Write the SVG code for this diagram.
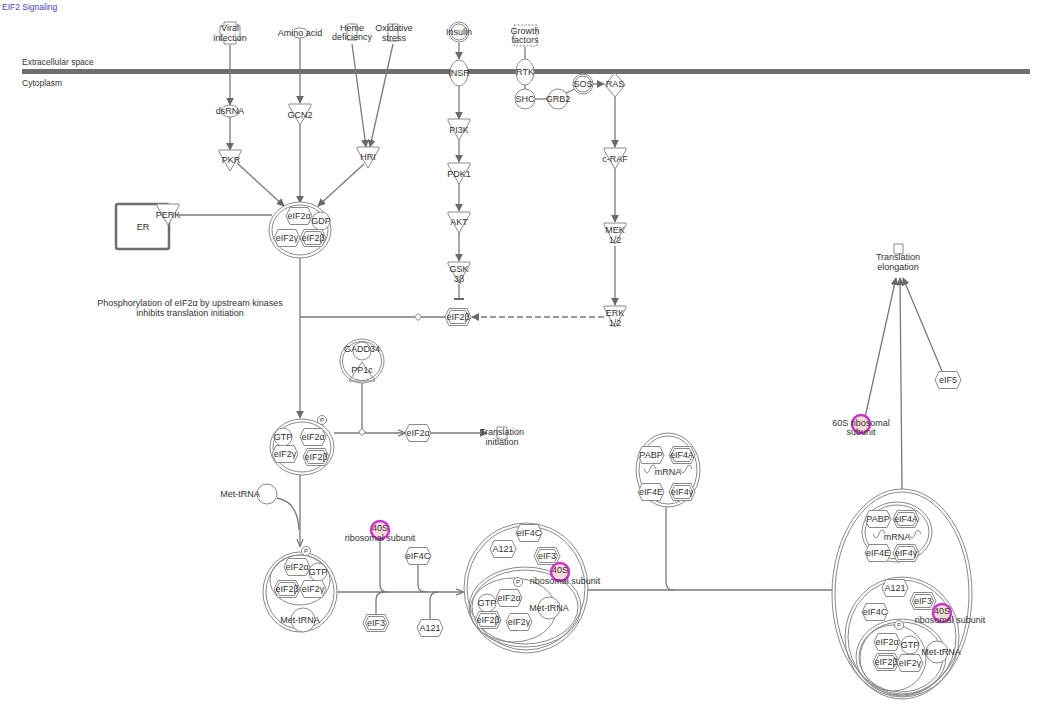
<svg xmlns="http://www.w3.org/2000/svg" xmlns:xlink="http://www.w3.org/1999/xlink" width="1050" height="708" viewBox="0 0 1050 708">
<style>
text{font-family:"Liberation Sans",Arial,sans-serif;font-size:9px;fill:#333;text-anchor:middle;dominant-baseline:central}
.t{text-anchor:start}
.s{fill:#fff;stroke:#8a8a8a;stroke-width:1}
.c{fill:none;stroke:#8a8a8a;stroke-width:1}
.l{fill:none;stroke:#7a7a7a;stroke-width:1.3}
.d{fill:none;stroke:#7a7a7a;stroke-width:1.3;stroke-dasharray:6 3}
.m{fill:#f6dcd8;stroke:#cc33cc;stroke-width:2.5}
.dm{fill:#fff;stroke:#7a7a7a;stroke-width:1}
.p{font-size:6px}
</style>
<defs>
<marker id="a" viewBox="0 0 10 10" refX="9" refY="5" markerWidth="8" markerHeight="8" orient="auto" markerUnits="userSpaceOnUse"><path d="M0,0 L10,5 L0,10 Z" fill="#6a6a6a"/></marker>
<marker id="ah" viewBox="0 0 10 10" refX="9" refY="5" markerWidth="8" markerHeight="8" orient="auto" markerUnits="userSpaceOnUse"><path d="M0,1 L10,5 L0,9" fill="none" stroke="#6a6a6a" stroke-width="1.3"/></marker>
<marker id="b" viewBox="0 0 10 10" refX="5" refY="5" markerWidth="10" markerHeight="10" orient="auto" markerUnits="userSpaceOnUse"><path d="M5,0 L5,10" stroke="#6a6a6a" stroke-width="2"/></marker>
<path id="hex" d="M-13,0 L-9,-8.5 L9,-8.5 L13,0 L9,8.5 L-9,8.5 Z"/>
<path id="hexi" d="M-10.5,0 L-7.5,-6.5 L7.5,-6.5 L10.5,0 L7.5,6.5 L-7.5,6.5 Z"/>
<path id="kin" d="M-11,0 L11,0 L11,2 L0,21 L-11,2 Z"/>
<path id="dia" d="M0,-3.5 L3.5,0 L0,3.5 L-3.5,0 Z"/>
<path id="mrna" d="M-24,-4 q3,8 6,0 t6,0 M12,-4 q3,8 6,0 t6,0"/>
</defs>

<text class="t" x="2" y="7" style="fill:#4444bb;font-size:8.5px">EIF2 Signaling</text>
<rect x="22" y="69" width="1008" height="5" fill="#6e6e6e"/>
<text class="t" x="22" y="62" style="font-size:8.5px">Extracellular space</text>
<text class="t" x="22" y="83" style="font-size:8.5px">Cytoplasm</text>

<g id="connectors">
<path class="l" d="M230,45 L230,105" marker-end="url(#a)"/>
<path class="l" d="M230,117 L230,150" marker-end="url(#a)"/>
<path class="l" d="M300,38 L300,103" marker-end="url(#a)"/>
<path class="l" d="M352,44 L366,147" marker-end="url(#a)"/>
<path class="l" d="M393,44 L370,147" marker-end="url(#a)"/>
<path class="l" d="M237,163 L284,206" marker-end="url(#a)"/>
<path class="l" d="M300,125 L300,203" marker-end="url(#a)"/>
<path class="l" d="M364,164 L318,206" marker-end="url(#a)"/>
<path class="l" d="M178,215 L272,215"/>
<path class="l" d="M300,258 L300,418" marker-end="url(#a)"/>
<path class="l" d="M445,317 L300,317"/>
<use href="#dia" x="418" y="317" class="dm"/>
<path class="l" d="M459,43 L459,59" marker-end="url(#a)"/>
<path class="l" d="M459,86 L459,119" marker-end="url(#a)"/>
<path class="l" d="M459,140 L459,162" marker-end="url(#a)"/>
<path class="l" d="M459,183 L459,211" marker-end="url(#a)"/>
<path class="l" d="M459,232 L459,261" marker-end="url(#a)"/>
<path class="l" d="M459,284 L459,299" marker-end="url(#b)"/>
<path class="l" d="M525,47 L525,60"/>
<path class="l" d="M525,85 L525,89"/>
<path class="l" d="M535,99 L548,99"/>
<path class="l" d="M566,93 L575,89"/>
<path class="l" d="M593,84 L604,84" marker-end="url(#a)"/>
<path class="l" d="M615,97 L615,147" marker-end="url(#a)"/>
<path class="l" d="M615,169 L615,222" marker-end="url(#a)"/>
<path class="l" d="M615,246 L615,305" marker-end="url(#a)"/>
<path class="d" d="M604,317 L472,317" marker-end="url(#a)"/>
<path class="l" d="M362,383 L362,432"/>
<path class="l" d="M334,433 L405,433" marker-end="url(#ah)"/>
<use href="#dia" x="362" y="432" class="dm"/>
<path class="l" d="M431,433 L487,433" marker-end="url(#a)"/>
<path class="l" d="M300,475 L300,546" marker-end="url(#ah)"/>
<path class="l" d="M277,498 Q298,502 299,530"/>
<path class="l" d="M337,592 L463,592" marker-end="url(#ah)"/>
<path class="l" d="M380,540 L380,585 Q380,592 388,592"/>
<path class="l" d="M418,565 L418,585 Q418,592 426,592"/>
<path class="l" d="M384,592 Q376,592 376,600 L376,614"/>
<path class="l" d="M438,592 Q430,592 430,600 L430,619"/>
<path class="l" d="M588,590 L840,590" marker-end="url(#ah)"/>
<path class="l" d="M666,507 L666,582 Q666,590 674,590"/>
<path class="l" d="M902,491 L900,278" marker-end="url(#a)"/>
<path class="l" d="M864,422 L896,278" marker-end="url(#a)"/>
<path class="l" d="M942,371 L903,278" marker-end="url(#a)"/>
</g>

<g id="viral-infection"><path class="c" d="M224,22 h12 v4 h4 v14 h-4 v4 h-12 v-4 h-4 v-14 h4 Z"/><text x="230" y="28">Viral</text><text x="230" y="38">infection</text></g>
<g id="amino-acid"><ellipse class="c" cx="300" cy="33" rx="8" ry="5"/><text x="300" y="33">Amino acid</text></g>
<g id="heme-deficiency"><path class="c" d="M347,24 h10 v16 h-10 Z"/><text x="352" y="28">Heme</text><text x="352" y="37">deficiency</text></g>
<g id="oxidative-stress"><path class="c" d="M388,24 h10 v17 h-10 Z"/><text x="394" y="28">Oxidative</text><text x="394" y="38">stress</text></g>
<g id="insulin"><circle class="s" cx="459" cy="32" r="10"/><circle class="c" cx="459" cy="32" r="8"/><text x="459" y="32">Insulin</text></g>
<g id="growth-factors"><rect class="c" x="514" y="25" width="23" height="21" style="stroke-dasharray:2 1.5"/><text x="525" y="31">Growth</text><text x="525" y="40">factors</text></g>

<g id="dsRNA"><ellipse class="s" cx="230" cy="111" rx="9" ry="6"/><text x="230" y="111">dsRNA</text></g>
<g id="PKR"><use href="#kin" x="230" y="150" class="s"/><text x="231" y="160">PKR</text></g>
<g id="GCN2"><use href="#kin" x="300" y="104" class="s"/><text x="300" y="115">GCN2</text></g>
<g id="HRI"><use href="#kin" x="368" y="147" class="s"/><text x="368" y="157">HRI</text></g>
<g id="INSR"><ellipse class="s" cx="459" cy="73" rx="9" ry="13"/><text x="459" y="73">INSR</text></g>
<g id="PI3K"><use href="#kin" x="459" y="119" class="s"/><text x="459" y="130">PI3K</text></g>
<g id="PDK1"><use href="#kin" x="459" y="163" class="s"/><text x="459" y="174">PDK1</text></g>
<g id="AKT"><use href="#kin" x="459" y="212" class="s"/><text x="459" y="222">AKT</text></g>
<g id="GSK3b"><use href="#kin" x="459" y="262" class="s"/><text x="459" y="269">GSK</text><text x="459" y="279">3β</text></g>
<g id="RTK"><ellipse class="s" cx="525" cy="72" rx="9" ry="13"/><text x="525" y="72">RTK</text></g>
<g id="SHC"><circle class="s" cx="525" cy="99" r="10"/><text x="525" y="99">SHC</text></g>
<g id="GRB2"><circle class="s" cx="558" cy="99" r="10"/><text x="558" y="99">GRB2</text></g>
<g id="SOS"><circle class="s" cx="583" cy="84" r="10"/><circle class="c" cx="583" cy="84" r="8"/><text x="583" y="84">SOS</text></g>
<g id="RAS"><path class="s" d="M615,73 L625,85 L615,97 L605,85 Z"/><text x="615" y="84">RAS</text></g>
<g id="c-RAF"><use href="#kin" x="615" y="148" class="s"/><text x="615" y="159">c-RAF</text></g>
<g id="MEK12"><use href="#kin" x="615" y="223" class="s"/><text x="615" y="230">MEK</text><text x="615" y="240">1/2</text></g>
<g id="ERK12"><use href="#kin" x="615" y="306" class="s"/><text x="615" y="313">ERK</text><text x="615" y="323">1/2</text></g>
<g id="eIF2b-top"><use href="#hex" x="458" y="317" class="s"/><use href="#hexi" x="458" y="317" class="c"/><text x="458" y="317">eIF2β</text></g>

<g id="ER"><rect x="116" y="204" width="53" height="45" rx="2" fill="#fff" stroke="#6e6e6e" stroke-width="2.5"/><text x="143" y="227">ER</text></g>
<g id="PERK"><use href="#kin" x="168" y="204" class="s"/><text x="168" y="215">PERK</text></g>

<g id="complex-eIF2-GDP">
<ellipse class="s" cx="300" cy="230" rx="31" ry="28"/><ellipse class="c" cx="300" cy="230" rx="28" ry="25"/>
<circle class="s" cx="321" cy="221" r="9"/><text x="321" y="221">GDP</text>
<use href="#hex" x="299" y="216" class="s"/><text x="299" y="216">eIF2α</text>
<use href="#hex" x="287" y="238" class="s"/><text x="287" y="238">eIF2γ</text>
<use href="#hex" x="313" y="238" class="s"/><use href="#hexi" x="313" y="238" class="c"/><text x="313" y="238">eIF2β</text>
</g>

<g id="note"><text x="190" y="303">Phosphorylation of eIF2α by upstream kinases</text><text x="190" y="313">inhibits translation initiation</text></g>

<g id="GADD34-PP1c">
<circle class="s" cx="362" cy="361" r="22"/><circle class="c" cx="362" cy="361" r="19.5"/>
<circle class="c" cx="362" cy="351" r="9"/><path class="c" d="M362,362 L375,381 L349,381 Z"/>
<text x="362" y="349">GADD34</text><text x="362" y="370">PP1c</text>
</g>

<g id="complex-eIF2-GTP-P">
<ellipse class="s" cx="302" cy="447" rx="32" ry="28"/><ellipse class="c" cx="302" cy="447" rx="29" ry="25"/>
<circle class="s" cx="322" cy="420" r="4.5"/><text class="p" x="322" y="420">P</text>
<circle class="s" cx="283" cy="437" r="9"/><text x="283" y="437">GTP</text>
<use href="#hex" x="313" y="437" class="s"/><text x="313" y="437">eIF2α</text>
<use href="#hex" x="285" y="454" class="s"/><text x="285" y="454">eIF2γ</text>
<use href="#hex" x="316" y="457" class="s"/><use href="#hexi" x="316" y="457" class="c"/><text x="316" y="457">eIF2β</text>
</g>
<g id="eIF2a"><use href="#hex" x="418" y="433" class="s"/><text x="418" y="433">eIF2α</text></g>
<g id="translation-initiation"><path class="c" d="M497,427 h10 v12 h-10 Z"/><text x="502" y="432">Translation</text><text x="502" y="442">initiation</text></g>
<g id="Met-tRNA"><circle class="s" cx="267" cy="494" r="10"/><text x="240" y="494">Met-tRNA</text></g>

<g id="complex-ternary">
<ellipse class="s" cx="300" cy="592" rx="37" ry="40"/><ellipse class="c" cx="300" cy="592" rx="34" ry="37"/>
<ellipse class="c" cx="300" cy="580" rx="30" ry="25"/>
<circle class="s" cx="306" cy="551" r="4.5"/><text class="p" x="306" y="551">P</text>
<circle class="s" cx="303" cy="620" r="12"/><text x="300" y="620">Met-tRNA</text>
<circle class="s" cx="318" cy="572" r="9"/><text x="318" y="572">GTP</text>
<use href="#hex" x="297" y="567" class="s"/><text x="297" y="567">eIF2α</text>
<use href="#hex" x="287" y="589" class="s"/><use href="#hexi" x="287" y="589" class="c"/><text x="287" y="589">eIF2β</text>
<use href="#hex" x="313" y="589" class="s"/><text x="313" y="589">eIF2γ</text>
</g>

<g id="s40-a"><circle class="m" cx="380" cy="530" r="9"/><text x="380" y="528">40S</text><text x="380" y="538">ribosomal subunit</text></g>
<g id="eIF4C-a"><use href="#hex" x="418" y="556" class="s"/><text x="418" y="556">eIF4C</text></g>
<g id="eIF3-a"><use href="#hex" x="376" y="623" class="s"/><use href="#hexi" x="376" y="623" class="c"/><text x="376" y="623">eIF3</text></g>
<g id="A121-a"><use href="#hex" x="430" y="628" class="s"/><text x="430" y="628">A121</text></g>

<g id="complex-43S">
<ellipse class="s" cx="526" cy="588" rx="62" ry="65"/><ellipse class="c" cx="526" cy="588" rx="59" ry="62"/>
<ellipse class="c" cx="525" cy="607" rx="56" ry="40"/><ellipse class="c" cx="525" cy="607" rx="53" ry="37"/>
<ellipse class="c" cx="513" cy="610" rx="43" ry="32"/>
<use href="#hex" x="529" y="533" class="s"/><text x="529" y="533">eIF4C</text>
<use href="#hex" x="503" y="549" class="s"/><text x="503" y="549">A121</text>
<use href="#hex" x="547" y="556" class="s"/><use href="#hexi" x="547" y="556" class="c"/><text x="547" y="556">eIF3</text>
<circle class="m" cx="560" cy="572" r="9"/><text x="560" y="570">40S</text><text x="565" y="581">ribosomal subunit</text>
<circle class="s" cx="518" cy="582" r="4.5"/><text class="p" x="518" y="582">P</text>
<circle class="s" cx="549" cy="608" r="11"/><text x="549" y="608">Met-tRNA</text>
<circle class="s" cx="487" cy="603" r="9"/><text x="487" y="603">GTP</text>
<use href="#hex" x="509" y="598" class="s"/><text x="509" y="598">eIF2α</text>
<use href="#hex" x="488" y="620" class="s"/><use href="#hexi" x="488" y="620" class="c"/><text x="488" y="620">eIF2β</text>
<use href="#hex" x="519" y="622" class="s"/><text x="519" y="622">eIF2γ</text>
</g>

<g id="complex-eIF4F">
<ellipse class="s" cx="668" cy="470" rx="32" ry="37"/><ellipse class="c" cx="668" cy="470" rx="29" ry="34"/>
<use href="#mrna" x="668" y="473" class="c"/><text x="668" y="472">mRNA</text>
<use href="#hex" x="651" y="455" class="s"/><text x="651" y="455">PABP</text>
<use href="#hex" x="682" y="455" class="s"/><use href="#hexi" x="682" y="455" class="c"/><text x="682" y="455">eIF4A</text>
<use href="#hex" x="651" y="492" class="s"/><text x="651" y="492">eIF4E</text>
<use href="#hex" x="682" y="492" class="s"/><use href="#hexi" x="682" y="492" class="c"/><text x="682" y="492">eIF4γ</text>
</g>

<g id="complex-48S">
<ellipse class="s" cx="902" cy="594" rx="70" ry="105"/><ellipse class="c" cx="902" cy="594" rx="67" ry="102"/>
<ellipse class="c" cx="897" cy="532" rx="35" ry="30"/><ellipse class="c" cx="897" cy="532" rx="32" ry="27"/>
<use href="#mrna" x="897" y="538" class="c"/><text x="897" y="537">mRNA</text>
<use href="#hex" x="878" y="519" class="s"/><text x="878" y="519">PABP</text>
<use href="#hex" x="906" y="519" class="s"/><use href="#hexi" x="906" y="519" class="c"/><text x="906" y="519">eIF4A</text>
<use href="#hex" x="878" y="553" class="s"/><text x="878" y="553">eIF4E</text>
<use href="#hex" x="906" y="553" class="s"/><use href="#hexi" x="906" y="553" class="c"/><text x="906" y="553">eIF4γ</text>
<ellipse class="c" cx="902" cy="637" rx="57" ry="60"/><ellipse class="c" cx="902" cy="637" rx="54" ry="57"/>
<ellipse class="c" cx="901" cy="657" rx="45" ry="38"/><ellipse class="c" cx="901" cy="657" rx="42" ry="35"/>
<ellipse class="c" cx="893" cy="658" rx="33" ry="33"/>
<use href="#hex" x="895" y="588" class="s"/><text x="895" y="588">A121</text>
<use href="#hex" x="923" y="601" class="s"/><use href="#hexi" x="923" y="601" class="c"/><text x="923" y="601">eIF3</text>
<use href="#hex" x="875" y="612" class="s"/><text x="875" y="612">eIF4C</text>
<circle class="m" cx="942" cy="613" r="9"/><text x="942" y="611">40S</text><text x="950" y="620">ribosomal subunit</text>
<circle class="s" cx="899" cy="625" r="4.5"/><text class="p" x="899" y="625">P</text>
<circle class="s" cx="937" cy="652" r="11"/><text x="941" y="652">Met-tRNA</text>
<circle class="s" cx="910" cy="645" r="9"/><text x="910" y="645">GTP</text>
<use href="#hex" x="887" y="642" class="s"/><text x="887" y="642">eIF2α</text>
<use href="#hex" x="886" y="662" class="s"/><use href="#hexi" x="886" y="662" class="c"/><text x="886" y="662">eIF2β</text>
<use href="#hex" x="910" y="663" class="s"/><text x="910" y="663">eIF2γ</text>
</g>

<g id="translation-elongation"><path class="c" d="M894,244 h9 v10 h-9 Z"/><text x="898" y="257">Translation</text><text x="898" y="267">elongation</text></g>
<g id="s60"><circle class="m" cx="861" cy="424" r="9"/><text x="861" y="423">60S ribosomal</text><text x="861" y="432">subunit</text></g>
<g id="eIF5"><use href="#hex" x="948" y="380" class="s"/><text x="948" y="380">eIF5</text></g>
</svg>
